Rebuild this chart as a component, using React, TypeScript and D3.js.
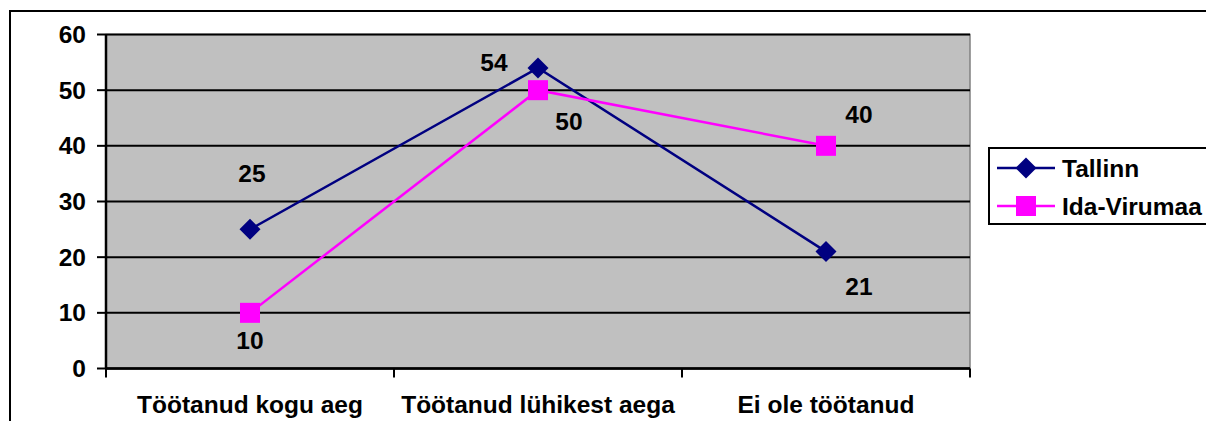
import React from "react";
import * as d3 from "d3";

const categories = ["Töötanud kogu aeg", "Töötanud lühikest aega", "Ei ole töötanud"];
const seriesNames = ["Tallinn", "Ida-Virumaa"];
const tallinnValues = [25, 54, 21];
const idaVirumaaValues = [10, 50, 40];
const yTicks = [0, 10, 20, 30, 40, 50, 60];

// label offsets (styling), relative to the point, in px
const tallinnLabelOffsets: [number, number][] = [[2, -47], [-44, 3], [33, 43]];
const idaLabelOffsets: [number, number][] = [[0, 36], [31, 40], [33, -23]];

const W = 1206;
const H = 421;
const plot = { left: 106, right: 970, top: 34.5, bottom: 368.5 };
const FONT = "'Liberation Sans', Arial, sans-serif";
const FS = 24.5;

export default function App() {
  const x = d3.scalePoint<string>().domain(categories).range([plot.left, plot.right]).padding(0.5);
  const band = (plot.right - plot.left) / categories.length;
  const y = d3.scaleLinear().domain([0, 60]).range([plot.bottom, plot.top]);
  const line = d3
    .line<number>()
    .x((_, i) => x(categories[i]) as number)
    .y((d) => y(d));

  const series = [
    { name: seriesNames[0], values: tallinnValues, color: "#000080", marker: "diamond", offsets: tallinnLabelOffsets },
    { name: seriesNames[1], values: idaVirumaaValues, color: "#FF00FF", marker: "square", offsets: idaLabelOffsets },
  ];

  const marker = (type: string, cx: number, cy: number, color: string, key?: any) =>
    type === "diamond" ? (
      <path key={key} d={`M${cx},${cy - 10.5}L${cx + 10.5},${cy}L${cx},${cy + 10.5}L${cx - 10.5},${cy}Z`} fill={color} />
    ) : (
      <rect key={key} x={cx - 10} y={cy - 10} width={20} height={20} fill={color} />
    );

  const catTicks = d3.range(categories.length + 1).map((i) => plot.left + i * band);

  return (
    <svg width={W} height={H} style={{ position: "absolute", left: 0, top: 0, background: "#fff" }} fontFamily={FONT} fontWeight="bold">
      {/* outer border */}
      <rect x={10} y={11} width={W + 20} height={H + 20} fill="none" stroke="#000" strokeWidth={2} />
      {/* plot area */}
      <rect x={plot.left} y={plot.top} width={plot.right - plot.left} height={plot.bottom - plot.top} fill="#C0C0C0" stroke="#808080" strokeWidth={1.5} />
      {/* gridlines */}
      {yTicks.map((t) => (
        <line key={"g" + t} x1={plot.left} x2={plot.right} y1={y(t)} y2={y(t)} stroke="#000" strokeWidth={2} />
      ))}
      {/* y axis */}
      <line x1={plot.left} x2={plot.left} y1={plot.top} y2={plot.bottom} stroke="#000" strokeWidth={2.5} />
      {yTicks.map((t) => (
        <g key={"yt" + t}>
          <line x1={plot.left - 9} x2={plot.left} y1={y(t)} y2={y(t)} stroke="#000" strokeWidth={2} />
          <text x={86} y={y(t) + 8.5} textAnchor="end" fontSize={FS}>
            {t}
          </text>
        </g>
      ))}
      {/* x axis */}
      <line x1={plot.left} x2={plot.right} y1={plot.bottom} y2={plot.bottom} stroke="#000" strokeWidth={2.5} />
      {catTicks.map((cx, i) => (
        <line key={"xt" + i} x1={cx} x2={cx} y1={plot.bottom} y2={plot.bottom + 9} stroke="#000" strokeWidth={2} />
      ))}
      {categories.map((c) => (
        <text key={c} x={x(c)} y={413} textAnchor="middle" fontSize={FS}>
          {c}
        </text>
      ))}
      {/* series */}
      {series.map((s) => (
        <g key={s.name}>
          <path d={line(s.values) as string} fill="none" stroke={s.color} strokeWidth={2.5} />
          {s.values.map((v, i) => marker(s.marker, x(categories[i]) as number, y(v), s.color, i))}
        </g>
      ))}
      {/* data labels */}
      {series.map((s) =>
        s.values.map((v, i) => (
          <text
            key={s.name + "l" + i}
            x={(x(categories[i]) as number) + s.offsets[i][0]}
            y={y(v) + s.offsets[i][1]}
            textAnchor="middle"
            fontSize={FS}
          >
            {v}
          </text>
        ))
      )}
      {/* legend */}
      <rect x={989} y={148} width={240} height={76} fill="#fff" stroke="#000" strokeWidth={2} />
      {series.map((s, i) => {
        const ly = 168 + i * 38;
        return (
          <g key={"lg" + s.name}>
            <line x1={997} x2={1055} y1={ly} y2={ly} stroke={s.color} strokeWidth={2.5} />
            {marker(s.marker, 1026, ly, s.color)}
            <text x={1062} y={ly + 9} fontSize={FS}>
              {s.name}
            </text>
          </g>
        );
      })}
    </svg>
  );
}
